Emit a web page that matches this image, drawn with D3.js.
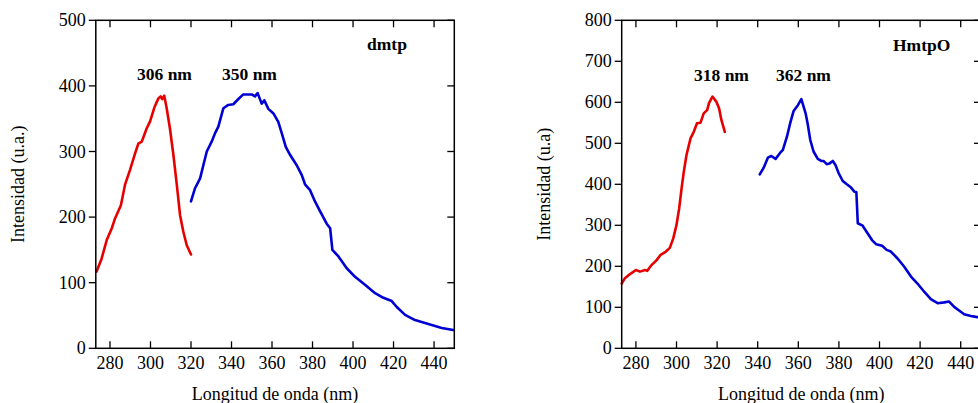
<!DOCTYPE html>
<html>
<head>
<meta charset="utf-8">
<script src="https://cdn.jsdelivr.net/npm/d3@7"></script>
<style>
  html, body { margin: 0; padding: 0; background: #fff; }
  svg { display: block; }
  text { font-family: "Liberation Serif", "DejaVu Serif", serif; fill: #000; }
</style>
</head>
<body>
<svg id="chart" width="978" height="403"></svg>
<script>
// ---------- data ----------
const xTicks = [280, 300, 320, 340, 360, 380, 400, 420, 440];
const yTicksLeft = [0, 100, 200, 300, 400, 500];
const yTicksRight = [0, 100, 200, 300, 400, 500, 600, 700, 800];

// dmtp
const dmtpExcX = [273.4, 275.9, 278.4, 280.9, 282.5, 285.4, 287.4, 289.9, 292.4, 294, 295.7, 298.1, 299.8, 301.9, 303.9, 305.0, 305.8, 306.8, 308, 309.6, 311.3, 313, 314.6, 316.2, 317.9, 320];
const dmtpExcY = [117, 137, 165, 183, 198, 218, 249, 272, 297, 312, 315, 335, 346, 367, 381, 384, 380, 385, 366, 335, 295, 249, 203, 178, 157, 143];
const dmtpEmX = [320, 322, 324.5, 326.1, 327.8, 330.2, 331.9, 333.5, 336, 338.4, 340.9, 343.4, 345.8, 350, 351.6, 352.9, 354.9, 356.2, 358.2, 360.7, 363.1, 364.8, 366.8, 368.9, 372.2, 374.7, 376.3, 378.8, 380.9, 383.7, 387, 388.7, 389.8, 392.8, 396.9, 401, 405.9, 410.9, 415, 419.1, 421.6, 425.7, 430.6, 437.2, 443.8, 449.5];
const dmtpEmY = [224, 244, 259, 279, 300, 315, 328, 338, 366, 371, 372, 380, 387, 387, 384, 389, 373, 378, 365, 358, 345, 328, 307, 295, 279, 264, 250, 241, 226, 209, 190, 183, 150, 140, 122, 109, 97, 84, 77, 72, 63, 51, 43, 37, 31, 28];

// HmtpO
const hmtpoExcX = [273, 274.6, 277.1, 280, 282, 284.5, 285.6, 287.7, 290.2, 292.2, 294.8, 296.7, 298.4, 300, 301.3, 302.5, 303.6, 304.9, 306.9, 308.5, 310.1, 311.8, 313.4, 315.1, 316, 317.7, 319.7, 321, 322.1, 323.8];
const hmtpoExcY = [158, 171, 181, 191, 187, 191, 189, 203, 215, 228, 236, 245, 268, 301, 341, 390, 431, 471, 512, 528, 549, 550, 573, 581, 598, 614, 601, 585, 557, 528];
const hmtpoEmX = [341, 342.9, 345, 346.7, 348.8, 351.1, 352.4, 354.4, 356, 357.7, 359.8, 361.5, 363.6, 364.7, 365.9, 367.5, 369.6, 371.3, 372.4, 374, 375.4, 377, 378.3, 379.9, 381.9, 383.9, 386, 387.6, 388.6, 389.3, 391.7, 394.2, 396.3, 398.3, 401.3, 403.5, 405.6, 408.9, 412.2, 415.5, 418.7, 422, 425.3, 428.6, 431.9, 434.3, 436.8, 439.2, 441.7, 445, 448.2, 450];
const hmtpoEmY = [424, 440, 465, 469, 462, 477, 484, 516, 549, 579, 593, 608, 573, 545, 508, 480, 462, 457, 457, 449, 451, 457, 447, 427, 408, 400, 392, 382, 381, 305, 299, 280, 264, 254, 250, 240, 236, 219, 199, 175, 158, 138, 120, 110, 112, 114, 101, 92, 83, 79, 76, 75];

const panels = [
  { left: 95.8, right: 454.3, yMax: 500, yTicks: yTicksLeft, ylabel: "Intensidad (u.a.)", ylabelX: 24,
    series: [[dmtpExcX, dmtpExcY, "#e60000"], [dmtpEmX, dmtpEmY, "#0000d2"]],
    notes: [["306 nm", 137, 80], ["350 nm", 222, 80], ["dmtp", 367, 50]] },
  { left: 621.7, right: 981, yMax: 800, yTicks: yTicksRight, ylabel: "Intensidad (u.a)", ylabelX: 550,
    series: [[hmtpoExcX, hmtpoExcY, "#e60000"], [hmtpoEmX, hmtpoEmY, "#0000d2"]],
    notes: [["318 nm", 694, 81], ["362 nm", 776, 81], ["HmtpO", 893, 51]] }
];

const plotTop = 20.3, plotBottom = 348.3;
const svg = d3.select("#chart");
const TL = 7;

panels.forEach(p => {
  const x = d3.scaleLinear().domain([273, 450]).range([p.left, p.right]);
  const y = d3.scaleLinear().domain([0, p.yMax]).range([plotBottom, plotTop]);
  const g = svg.append("g");

  // data lines
  p.series.forEach(([xs, ys, col]) => {
    const pts = xs.map((v, i) => [v, ys[i]]);
    g.append("path")
      .attr("d", d3.line().x(d => x(d[0])).y(d => y(d[1]))(pts))
      .attr("fill", "none").attr("stroke", col).attr("stroke-width", 2.6)
      .attr("stroke-linejoin", "round").attr("stroke-linecap", "round");
  });

  // frame
  g.append("rect").attr("x", p.left).attr("y", plotTop)
    .attr("width", p.right - p.left).attr("height", plotBottom - plotTop)
    .attr("fill", "none").attr("stroke", "#000").attr("stroke-width", 1.5);

  // x ticks bottom & top (inward)
  xTicks.forEach(t => {
    g.append("line").attr("x1", x(t)).attr("x2", x(t)).attr("y1", plotBottom).attr("y2", plotBottom - TL)
      .attr("stroke", "#000").attr("stroke-width", 1.3);
    g.append("line").attr("x1", x(t)).attr("x2", x(t)).attr("y1", plotTop).attr("y2", plotTop + TL)
      .attr("stroke", "#000").attr("stroke-width", 1.3);
    g.append("text").attr("x", x(t)).attr("y", plotBottom + 21).attr("text-anchor", "middle")
      .attr("font-size", 18).text(t);
  });

  // y ticks: left outward, right inward
  p.yTicks.forEach(t => {
    g.append("line").attr("x1", p.left).attr("x2", p.left - TL).attr("y1", y(t)).attr("y2", y(t))
      .attr("stroke", "#000").attr("stroke-width", 1.3);
    g.append("line").attr("x1", p.right).attr("x2", p.right - TL).attr("y1", y(t)).attr("y2", y(t))
      .attr("stroke", "#000").attr("stroke-width", 1.3);
    g.append("text").attr("x", p.left - 10).attr("y", y(t) + 6).attr("text-anchor", "end")
      .attr("font-size", 18).text(t);
  });

  // axis titles
  g.append("text").attr("x", (p.left + p.right) / 2).attr("y", 400).attr("text-anchor", "middle")
    .attr("font-size", 18).text("Longitud de onda (nm)");
  g.append("text").attr("transform", `translate(${p.ylabelX},${(plotTop + plotBottom) / 2}) rotate(-90)`)
    .attr("text-anchor", "middle").attr("font-size", 18).text(p.ylabel);

  // annotations
  p.notes.forEach(([txt, nx, ny]) => {
    g.append("text").attr("x", nx).attr("y", ny).attr("font-size", 17.5)
      .attr("font-weight", "bold").text(txt);
  });
});
</script>
</body>
</html>
